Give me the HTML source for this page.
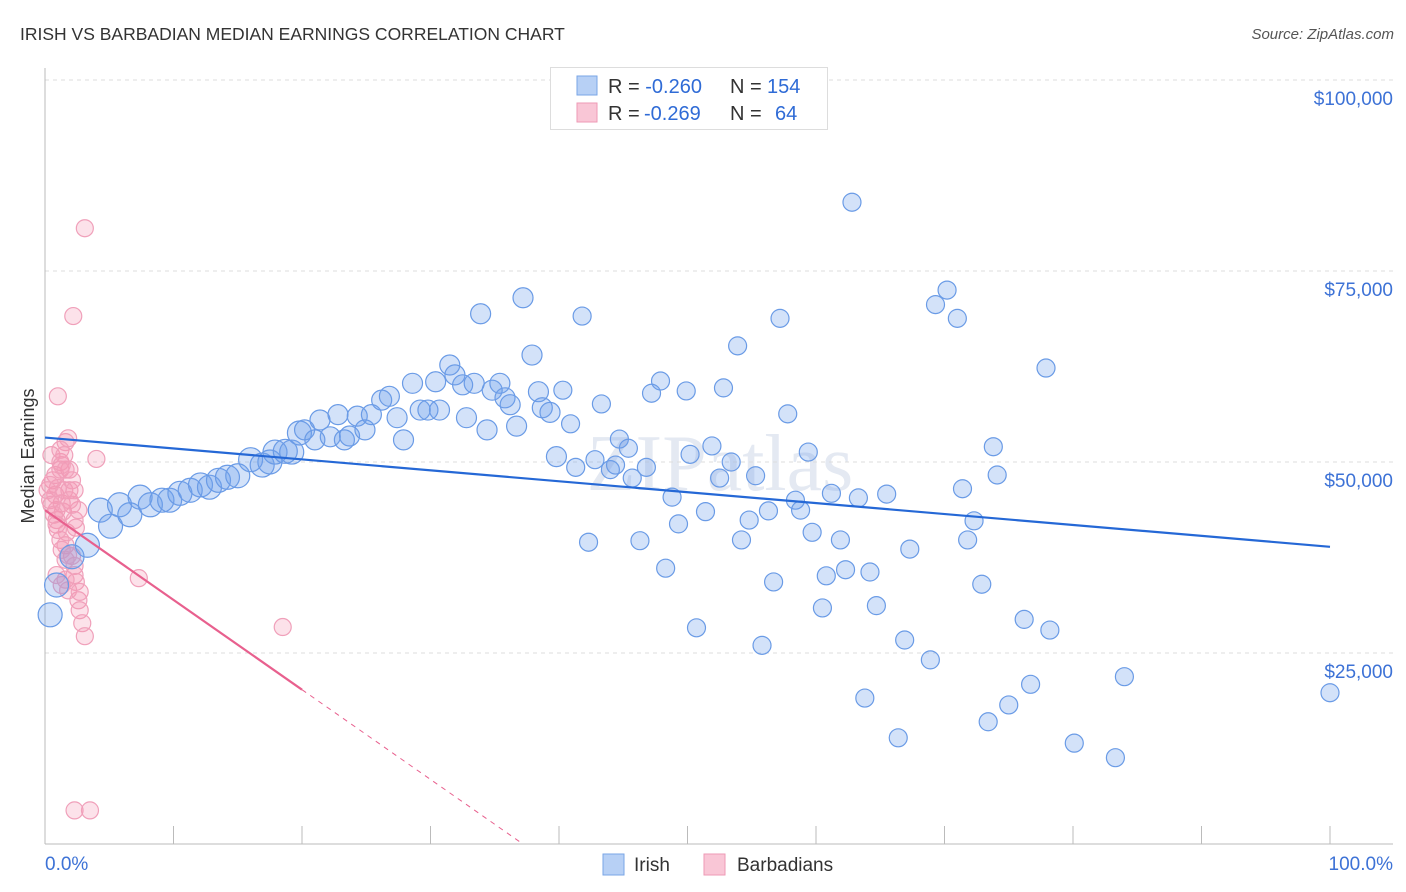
<!DOCTYPE html>
<html><head><meta charset="utf-8"><style>
body{margin:0;background:#fff;font-family:"Liberation Sans",sans-serif;}
svg{display:block}
</style></head><body>
<svg id="chart" width="1406" height="892" viewBox="0 0 1406 892" xmlns="http://www.w3.org/2000/svg">
<text x="20" y="40" font-size="17.5" fill="#333">IRISH VS BARBADIAN MEDIAN EARNINGS CORRELATION CHART</text>
<text x="1394" y="39" font-size="15" fill="#555" text-anchor="end" font-style="italic">Source: ZipAtlas.com</text>
<text transform="translate(34,456) rotate(-90)" font-size="18" fill="#333" text-anchor="middle">Median Earnings</text>
<text x="720" y="490" font-size="80" fill="#e4e9f2" text-anchor="middle" font-family="Liberation Serif,serif">ZIPatlas</text>
<g id="grid"></g>
<g id="axes"></g>
<g id="pinkPts"></g>
<g id="bluePts"></g>
<g id="trends"></g>
<g>
<rect x="550.5" y="67.5" width="277" height="62" fill="#fff" stroke="#ddd"/>
<rect x="577" y="76" width="20" height="19" fill="#b7d0f5" stroke="#7aa6e6"/>
<rect x="577" y="103" width="20" height="19" fill="#f9c6d6" stroke="#ee9ab5"/>
<text x="608" y="93" font-size="20" fill="#333">R = <tspan fill="#2f6bd6">-0.260</tspan><tspan x="730">N = </tspan><tspan fill="#2f6bd6" x="767">154</tspan></text>
<text x="608" y="120" font-size="20" fill="#333">R = <tspan fill="#2f6bd6" x="644">-0.269</tspan><tspan x="730">N = </tspan><tspan fill="#2f6bd6" x="775">64</tspan></text>
</g>
<g>
<rect x="603" y="854" width="21" height="21" fill="#b7d0f5" stroke="#7aa6e6"/>
<text x="634" y="871" font-size="19" fill="#333">Irish</text>
<rect x="704" y="854" width="21" height="21" fill="#f9c6d6" stroke="#ee9ab5"/>
<text x="737" y="871" font-size="19" fill="#333">Barbadians</text>
</g>
</svg>
<script>
const yTicks=[25000,50000,75000,100000];
const yTickLabels=["$25,000","$50,000","$75,000","$100,000"];
const xTicks=[0,10,20,30,40,50,60,70,80,90,100];
const xEndLabels=["0.0%","100.0%"];
const irishX=[0.4,0.9,2.1,3.3,4.3,5.1,5.8,6.6,7.4,8.2,9.1,9.7,10.5,11.3,12.1,12.8,13.5,14.2,15.0,16.0,16.9,17.5,17.9,18.7,19.2,19.8,20.2,21.0,21.4,22.2,22.8,23.3,23.7,24.3,24.9,25.4,26.2,26.8,27.4,27.9,28.6,29.2,29.8,30.4,30.7,31.5,31.9,32.5,32.8,33.4,33.9,34.4,34.8,35.4,35.8,36.2,36.7,37.2,37.9,38.4,38.7,39.3,39.8,40.3,40.9,41.3,41.8,42.3,42.8,43.3,44.0,44.4,44.7,45.4,45.7,46.3,46.8,47.2,47.9,48.3,48.8,49.3,49.9,50.2,50.7,51.4,51.9,52.5,52.8,53.4,53.9,54.2,54.8,55.3,55.8,56.3,56.7,57.2,57.8,58.4,58.8,59.4,59.7,60.5,60.8,61.2,61.9,62.3,62.8,63.3,63.8,64.2,64.7,65.5,66.4,66.9,67.3,68.9,69.3,70.2,71.0,71.4,71.8,72.3,72.9,73.4,73.8,74.1,75.0,76.2,76.7,77.9,78.2,80.1,83.3,84.0,100];
const irishY=[30.0,33.9,37.6,39.1,43.7,41.6,44.4,43.1,45.4,44.4,45.0,45.0,45.9,46.3,47.0,46.7,47.6,48.0,48.2,50.3,49.6,50.0,51.3,51.4,51.3,53.8,54.2,52.9,55.5,53.3,56.2,52.9,53.4,56.0,54.2,56.2,58.1,58.6,55.8,52.9,60.3,56.8,56.8,60.5,56.8,62.7,61.4,60.1,55.8,60.3,69.4,54.2,59.4,60.3,58.4,57.5,54.7,71.5,64.0,59.2,57.1,56.5,50.7,59.4,55.0,49.3,69.1,39.5,50.3,57.6,49.0,49.6,53.0,51.8,47.9,39.7,49.3,59.0,60.6,36.1,45.4,41.9,59.3,51.0,28.3,43.5,52.1,47.9,59.7,50.0,65.2,39.8,42.4,48.2,26.0,43.6,34.3,68.8,56.3,45.0,43.7,51.3,40.8,30.9,35.1,45.9,39.8,35.9,84.0,45.3,19.1,35.6,31.2,45.8,13.9,26.7,38.6,24.1,70.6,72.5,68.8,46.5,39.8,42.3,34.0,16.0,52.0,48.3,18.2,29.4,20.9,62.3,28.0,13.2,11.3,21.9,19.8];
const barbX=[0.5,0.6,0.8,0.9,0.9,1.0,1.2,1.3,1.4,1.5,1.6,1.6,1.7,1.8,1.9,2.1,2.3,2.3,2.4,2.6,2.7,2.9,3.1,2.2,3.1,4.0,2.3,3.5,7.3,18.5,1.2,1.3,1.6,1.8,1.9,2.1,2.3,2.4,2.6,1.2,0.8,1.0,0.4,0.5,0.7,0.9,1.0,1.3,1.6,1.2,1.5,1.9,2.1,0.4,0.2,1.6,1.8,2.7,2.3,1.3,0.9];
const barbY=[50.9,47.6,45.7,42.4,43.7,58.6,50.0,44.6,43.5,46.3,39.1,52.6,40.8,53.1,49.0,37.7,36.4,35.2,34.3,31.9,30.6,28.9,27.2,69.1,80.6,50.4,4.4,4.4,34.8,28.4,39.8,38.5,37.2,37.8,46.3,47.6,42.4,41.4,43.7,49.0,48.3,46.6,45.0,44.4,43.1,41.8,41.1,49.6,49.0,51.6,50.9,45.0,44.4,47.0,46.3,34.6,33.2,33.0,46.3,33.9,35.2];
const irishTrend=[53.2,38.9];
const barbTrend=[43.7,20.2];
const NS="http://www.w3.org/2000/svg";
const X0=45,X1=1330,YB=844;
function sx(p){return X0+(X1-X0)*p/100;}
function sy(v){return 462-(v-50000)*191/25000;}
function mk(tag,attrs,parent){const e=document.createElementNS(NS,tag);for(const k in attrs)e.setAttribute(k,attrs[k]);parent.appendChild(e);return e;}
const grid=document.getElementById('grid'),axes=document.getElementById('axes');
yTicks.forEach((t,i)=>{
  const y=sy(t);
  const l=mk('line',{x1:X0,x2:1393,y1:y,y2:y,stroke:'#ddd','stroke-dasharray':'4,4'},grid);
  
  
  const tx=mk('text',{x:1393,y:y+25,'font-size':19,fill:'#3d72d6','text-anchor':'end'},axes);
  tx.textContent=yTickLabels[i];
  
  
});
const yl=mk('line',{x1:X0,x2:X0,y1:68,y2:YB,stroke:'#bbb'},axes);


const xl=mk('line',{x1:X0,x2:1393,y1:YB,y2:YB,stroke:'#bbb'},axes);


xTicks.forEach(t=>{
  const tk=mk('line',{x1:sx(t),x2:sx(t),y1:826,y2:YB,stroke:'#bbb'},axes);
  
  
});
const xa=mk('text',{x:45,y:870,'font-size':19,fill:'#3d72d6'},axes);xa.textContent=xEndLabels[0];


const xb=mk('text',{x:1393,y:870,'font-size':19,fill:'#3d72d6','text-anchor':'end'},axes);xb.textContent=xEndLabels[1];


const pg=document.getElementById('pinkPts');
barbX.forEach((x,i)=>{
  const c=mk('circle',{cx:sx(x),cy:sy(barbY[i]*1000),r:8.5,fill:'rgba(245,150,180,0.28)',stroke:'#f0a0ba','stroke-width':1.2},pg);
  
  
});
const bg=document.getElementById('bluePts');
irishX.forEach((x,i)=>{
  const r=x<20?12:(x<40?10:9);
  const c=mk('circle',{cx:sx(x),cy:sy(irishY[i]*1000),r:r,fill:'rgba(110,160,235,0.3)',stroke:'#6a9be6','stroke-width':1.2},bg);
  
  
});
const tg=document.getElementById('trends');
const bl=mk('line',{x1:sx(0),y1:sy(irishTrend[0]*1000),x2:sx(100),y2:sy(irishTrend[1]*1000),stroke:'#2568d6','stroke-width':2.2},tg);


const pl=mk('line',{x1:sx(0),y1:sy(barbTrend[0]*1000),x2:sx(20),y2:sy(barbTrend[1]*1000),stroke:'#e8608e','stroke-width':2.2},tg);


const slope=(barbTrend[1]-barbTrend[0])/20;
const xz=-barbTrend[0]/slope;
const pd=mk('line',{x1:sx(20),y1:sy(barbTrend[1]*1000),x2:sx(xz),y2:sy(0),stroke:'#e8608e','stroke-width':1,'stroke-dasharray':'5,5'},tg);


</script>
</body></html>
